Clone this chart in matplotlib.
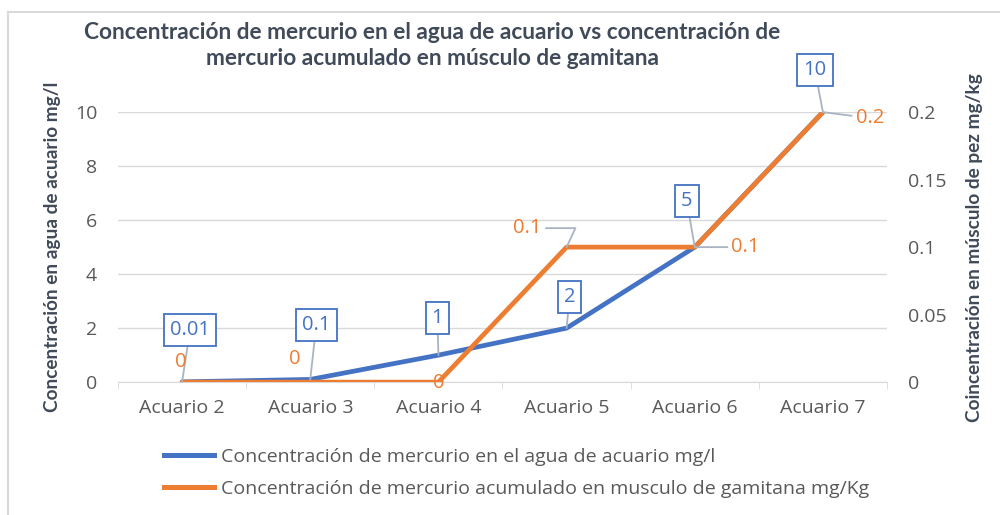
import matplotlib
matplotlib.use("Agg")
import matplotlib.pyplot as plt
from matplotlib.lines import Line2D
import numpy as np

# ===== DATOS =====
acuarios   = ["Acuario 2", "Acuario 3", "Acuario 4", "Acuario 5", "Acuario 6", "Acuario 7"]
agua_mgl   = [0.01, 0.1, 1, 2, 5, 10]
musculo_mg = [0, 0, 0, 0.1, 0.1, 0.2]

etiq_agua    = ["0.01", "0.1", "1", "2", "5", "10"]
etiq_musculo = ["0", "0", "0", "0.1", "0.1", "0.2"]

# desplazamiento de las etiquetas (pixeles)
off_agua    = [(8, 52), (6, 54), (-1, 37), (3, 31), (-8, 46), (-8, 42)]
off_musculo = [(-1, 20), (-15, 23), (0, -1), (-39, 19), (51, 0), (47, -6)]
con_linea   = [False, False, False, True, True, True]

azul    = "#4472C4"
naranja = "#ED7D31"
gris    = "#595959"
titulo_c = "#404A58"
guia    = "#A9B4C2"

fuente_txt = ["Open Sans", "DejaVu Sans"]
fuente_tit = ["Lato", "DejaVu Sans"]
plt.rcParams["font.family"] = fuente_txt

fig = plt.figure(figsize=(10, 5.15), dpi=100)
ax = fig.add_axes([0.118, 0.258, 0.769, 0.5243])
ax2 = ax.twinx()

x = np.arange(len(acuarios))
ax.plot(x, agua_mgl, color=azul, lw=3.4, solid_capstyle="round", zorder=3)
ax2.plot(x, musculo_mg, color=naranja, lw=3.4, solid_capstyle="round", zorder=3)

ax.set_xlim(-0.5, len(acuarios) - 0.5)
ax.set_ylim(0, 10)
ax2.set_ylim(0, 0.2)
ax.set_yticks(np.arange(0, 11, 2))
ax2.set_yticks([0, 0.05, 0.1, 0.15, 0.2])
ax2.set_yticklabels(["0", "0.05", "0.1", "0.15", "0.2"])
ax.grid(axis="y", color="#D9D9D9", lw=1)
ax.set_axisbelow(True)

for a in (ax, ax2):
    for s in a.spines.values():
        s.set_visible(False)
    a.tick_params(axis="y", length=0, labelsize=14, labelcolor=gris, pad=15)
ax.spines["bottom"].set_visible(True)
ax.spines["bottom"].set_color("#D9D9D9")
ax.set_xticks(x)
ax.set_xticklabels(acuarios)
ax.set_xticks(np.arange(-0.5, len(acuarios), 1), minor=True)
ax.tick_params(axis="x", which="major", length=0, labelsize=14, labelcolor=gris, pad=12)
ax.tick_params(axis="x", which="minor", length=5, color="#D9D9D9")

ax.set_ylabel("Concentración en agua de acuario mg/l", fontsize=13.7, fontweight="bold",
              color=titulo_c, labelpad=10, family=fuente_tit)
ax2.set_ylabel("Coincentración en músculo de pez mg/kg", fontsize=13.7, fontweight="bold",
               color=titulo_c, labelpad=14, family=fuente_tit)

# etiquetas de datos
for i in range(len(acuarios)):
    ax2.annotate(etiq_agua[i], xy=(x[i], agua_mgl[i]), xycoords=ax.transData,
                 xytext=off_agua[i], textcoords="offset pixels", ha="center", va="center",
                 fontsize=14.5, color=azul, zorder=6, annotation_clip=False,
                 bbox=dict(boxstyle="square,pad=0.3", fc="white", ec=azul, lw=1.3),
                 arrowprops=dict(arrowstyle="-", color=guia, lw=1.3, shrinkA=0, shrinkB=0))
    ap = None
    if con_linea[i]:
        ap = dict(arrowstyle="-", color=guia, lw=1.3, shrinkA=0, shrinkB=0)
        if i == 3:
            ap["connectionstyle"] = "angle,angleA=0,angleB=65,rad=0"
    ax2.annotate(etiq_musculo[i], xy=(x[i], musculo_mg[i]), xytext=off_musculo[i],
                 textcoords="offset pixels", ha="center", va="center", fontsize=14.5,
                 color=naranja, zorder=6, annotation_clip=False,
                 bbox=dict(boxstyle="square,pad=0.2", fc="none", ec="none"), arrowprops=ap)

fig.text(0.432, 0.912, "Concentración de mercurio en el agua de acuario vs concentración de\n"
         "mercurio acumulado en músculo de gamitana", ha="center", va="center",
         fontsize=16.3, fontweight="bold", color=titulo_c, linespacing=1.3, family=fuente_tit)

# leyenda
h = [Line2D([], [], color=azul, lw=3.6), Line2D([], [], color=naranja, lw=3.6)]
fig.legend(h, ["Concentración de mercurio en el agua de acuario mg/l",
               "Concentración de mercurio acumulado en musculo de gamitana mg/Kg"],
           loc="upper left", bbox_to_anchor=(0.164, 0.13), frameon=False,
           fontsize=14, labelcolor=gris, handlelength=2.55, handletextpad=0.36,
           labelspacing=0.72, borderaxespad=0, borderpad=0)

# borde del gráfico
fig.add_artist(Line2D([0.008, 1], [0.977, 0.977], color="#D9D9D9", lw=1.5))
fig.add_artist(Line2D([0.008, 0.008], [0, 0.977], color="#D9D9D9", lw=1.5))

fig.savefig("out.png", dpi=100)
